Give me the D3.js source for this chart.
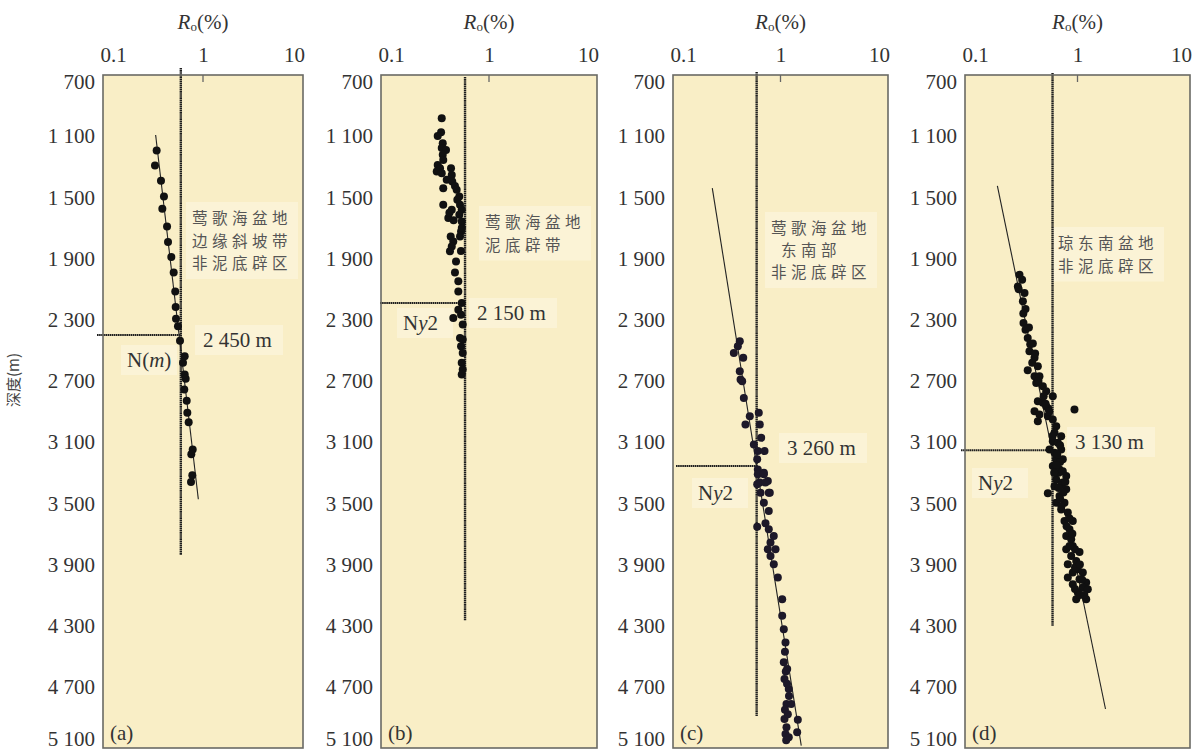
<!DOCTYPE html>
<html><head><meta charset="utf-8">
<script src="https://cdn.jsdelivr.net/npm/d3@7"></script>
<style>body{margin:0;background:#fff}</style>
</head><body>
<svg id="chart" width="1204" height="753"></svg>
<script>
// ---------- data ----------
const depthTicks = [700,1100,1500,1900,2300,2700,3100,3500,3900,4300,4700,5100];
const roTicks = [0.1,1,10];
const panelIds = ['a','b','c','d'];
const thresholdRo = 0.6;

const pointsA = [[0.344,1194],[0.331,1292],[0.380,1392],[0.407,1494],[0.392,1575],[0.437,1690],[0.447,1792],[0.482,1890],[0.509,1991],[0.528,2115],[0.533,2216],[0.537,2293],[0.562,2343],[0.589,2438],[0.656,2539],[0.631,2582],[0.656,2658],[0.671,2686],[0.650,2756],[0.687,2830],[0.697,2908],[0.719,2970],[0.789,3148],[0.764,3179],[0.782,3316],[0.759,3361]];

const pointsB = [[0.365,983],[0.360,1074],[0.335,1098],[0.373,1146],[0.365,1178],[0.400,1190],[0.373,1222],[0.377,1255],[0.335,1288],[0.352,1309],[0.328,1331],[0.445,1309],[0.365,1342],[0.452,1353],[0.406,1385],[0.457,1397],[0.484,1425],[0.377,1440],[0.502,1451],[0.531,1494],[0.509,1516],[0.377,1549],[0.539,1549],[0.452,1581],[0.559,1581],[0.531,1614],[0.420,1635],[0.559,1658],[0.442,1756],[0.551,1723],[0.467,1788],[0.452,1821],[0.435,1853],[0.539,1756],[0.495,1919],[0.484,1991],[0.520,2049],[0.520,2115],[0.559,2190],[0.520,2234],[0.467,2288],[0.551,2267],[0.571,2332],[0.539,2419],[0.571,2430],[0.551,2474],[0.571,2517],[0.559,2582],[0.571,2626],[0.559,2658],[0.430,1600],[0.470,1650],[0.560,1700],[0.550,1850]];

const pointsC = [[0.418,2441],[0.401,2474],[0.368,2517],[0.450,2549],[0.418,2637],[0.425,2691],[0.440,2702],[0.456,2811],[0.518,2931],[0.472,2985],[0.628,2908],[0.642,2985],[0.661,3072],[0.565,3115],[0.615,3159],[0.710,3159],[0.607,3213],[0.615,3279],[0.700,3300],[0.642,3365],[0.762,3355],[0.795,3431],[0.615,3311],[0.700,3311],[0.607,3376],[0.725,3365],[0.652,3431],[0.778,3431],[0.700,3496],[0.778,3551],[0.607,3653],[0.725,3631],[0.778,3670],[0.866,3714],[0.807,3757],[0.762,3801],[0.899,3801],[0.807,3845],[0.866,3899],[0.944,3986],[1.037,4127],[1.037,4236],[1.073,4323],[1.113,4410],[1.073,4540],[1.154,4584],[1.089,4649],[1.194,4715],[1.137,4813],[1.257,4813],[1.089,4911],[1.449,4915],[1.137,4965],[1.113,5008],[1.429,4997],[1.194,5030],[1.100,4470],[1.120,4600],[1.150,4680],[1.200,4760],[1.100,4850],[1.170,4880],[1.130,5050]];

const pointsD = [[0.305,2006],[0.322,2038],[0.295,2082],[0.338,2125],[0.327,2180],[0.345,2230],[0.331,2321],[0.345,2365],[0.361,2419],[0.401,2456],[0.374,2506],[0.415,2549],[0.396,2582],[0.444,2604],[0.361,2630],[0.415,2669],[0.459,2669],[0.430,2713],[0.492,2735],[0.527,2767],[0.603,2800],[0.444,2833],[0.492,2843],[0.527,2865],[0.415,2898],[0.459,2920],[0.545,2931],[0.444,2963],[0.603,2952],[0.647,2996],[0.625,3039],[0.716,3061],[0.940,2887],[0.603,3094],[0.668,3104],[0.564,3148],[0.625,3170],[0.716,3148],[0.647,3213],[0.740,3213],[0.603,3257],[0.692,3279],[0.794,3322],[0.647,3344],[0.740,3365],[0.625,3388],[0.794,3409],[0.545,3435],[0.692,3453],[0.647,3496],[0.766,3496],[0.716,3540],[0.820,3561],[0.766,3616],[0.908,3616],[0.849,3670],[0.794,3714],[0.879,3736],[0.908,3779],[0.794,3801],[1.042,3818],[0.879,3845],[0.974,3877],[0.820,3899],[1.006,3931],[0.908,3953],[1.115,3953],[0.820,3986],[1.042,3997],[1.195,4018],[0.908,4029],[1.115,4051],[1.235,4062],[1.006,4084],[0.974,4127],[1.195,4127],[0.660,3180],[0.700,3230],[0.680,3300],[0.720,3380],[0.750,3430],[0.700,3470],[0.850,3600],[0.800,3650],[0.900,3700],[0.950,3800],[0.850,3780],[0.950,3920],[1.050,3900],[1.100,4000],[0.950,4060],[1.050,4100],[1.150,4100],[0.700,3120],[0.650,3250],[0.620,3300],[0.740,3290],[0.780,3360],[0.680,3400],[0.720,3520],[0.600,3060],[0.550,2880],[0.500,2800],[0.380,2460],[0.300,2100],[0.330,2260],[0.370,2350],[0.420,2520],[0.450,2700],[0.560,2900],[0.520,2850]];

const trendA = [[0.336,1092],[0.898,3474]];
const trendB = [];
const trendC = [[0.232,1440],[1.56,5085]];
const trendD = [[0.194,1425],[1.774,4845]];

const refSpanA = [654,3840];
const refSpanB = [713,4264];
const refSpanC = [680,4891];
const refSpanD = [687,4303];

const boundaryDepths = [2400,2190,3257,3153];
const boundaryLabels = ['2 450 m','2 150 m','3 260 m','3 130 m'];
const stratLabels = [['N(','m',')'],['N','y','2'],['N','y','2'],['N','y','2']];
const regionTexts = [
  ['莺歌海盆地','边缘斜坡带','非泥底辟区'],
  ['莺歌海盆地','泥底辟带'],
  ['莺歌海盆地','东南部','非泥底辟区'],
  ['琼东南盆地','非泥底辟区']
];
const panelTags = ['(a)','(b)','(c)','(d)'];

// ---------- layout ----------
const layout = [
  {left:103,right:303, regionX:[192,192,192], regionY:[224,246.5,269], bX:203,bY:347, sX:127,sY:367, hStart:97},
  {left:381,right:597, regionX:[485,485], regionY:[228,250.5], bX:477,bY:320, sX:403,sY:330, hStart:380},
  {left:673,right:888, regionX:[771,781,771], regionY:[234,256,278], bX:787,bY:455, sX:698,sY:500, hStart:676},
  {left:965,right:1190, regionX:[1058,1058], regionY:[249,271.5], bX:1075,bY:449, sX:978,sY:490, hStart:961}
];
const plotTop = 75, plotBottom = 748;
const serif = "'Liberation Serif','Times New Roman',serif";
const cjk = "'Noto Sans CJK SC','Noto Sans CJK TC',sans-serif";

const allPoints = [pointsA,pointsB,pointsC,pointsD];
const allTrends = [trendA,trendB,trendC,trendD];
const allSpans = [refSpanA,refSpanB,refSpanC,refSpanD];

const svg = d3.select('#chart');
const y = d3.scaleLinear().domain([700,5100]).range([plotTop,plotBottom]);
const fmtDepth = d => d >= 1000 ? Math.floor(d/1000) + ' ' + String(d%1000).padStart(3,'0') : String(d);

// y-axis title
svg.append('text')
  .attr('transform','translate(19,380) rotate(-90)')
  .attr('text-anchor','middle')
  .attr('font-family', cjk).attr('font-size',15).attr('fill','#444')
  .text('深度(m)');

panelIds.forEach((id,i) => {
  const L = layout[i];
  const x = d3.scaleLog().domain([0.1,10]).range([L.left,L.right]);
  const g = svg.append('g').attr('class','panel-'+id);

  // background
  g.append('rect').attr('x',L.left).attr('y',plotTop)
    .attr('width',L.right-L.left).attr('height',plotBottom-plotTop)
    .attr('fill','#f9eec6');

  // label highlight boxes (slightly lighter)
  const hl = '#fbf3d6';
  const rX = L.regionX[0]-6, rY = L.regionY[0]-22;
  const rH = L.regionY[L.regionY.length-1]-L.regionY[0]+32;
  g.append('rect').attr('x',rX).attr('y',rY).attr('width',Math.min(112,L.right-rX-4)).attr('height',rH).attr('fill',hl);
  g.append('rect').attr('x',L.bX-8).attr('y',L.bY-22).attr('width',88).attr('height',30).attr('fill',hl);
  g.append('rect').attr('x',L.sX-6).attr('y',L.sY-22).attr('width',56).attr('height',30).attr('fill',hl);

  // y axis
  const ya = g.append('g').attr('transform',`translate(${L.left},0)`)
    .call(d3.axisLeft(y).tickValues(depthTicks).tickSize(0).tickPadding(8).tickFormat(fmtDepth));
  ya.select('.domain').remove();
  ya.selectAll('text').attr('font-family',serif).attr('font-size',21).attr('fill','#333')
    .attr('dy', d => d===700 ? '0.62em' : d===5100 ? '-0.1em' : '0.32em');

  // x axis (top)
  const xa = g.append('g').attr('transform',`translate(0,${plotTop})`)
    .call(d3.axisTop(x).tickValues(roTicks).tickSize(0).tickPadding(13).tickFormat(d => d3.format('~g')(d)));
  xa.select('.domain').remove();
  xa.selectAll('text').attr('font-family',serif).attr('font-size',21).attr('fill','#333')
    .attr('dx', d => d===0.1 ? 10 : d===10 ? -9 : 0);
  // small inner tick at 1
  g.append('line').attr('x1',x(1)).attr('x2',x(1)).attr('y1',plotTop).attr('y2',plotTop+7)
    .attr('stroke','#666').attr('stroke-width',1.3);

  // axis title Ro(%)
  const t = g.append('text').attr('x',(L.left+L.right)/2).attr('y',29)
    .attr('text-anchor','middle').attr('font-family',serif).attr('font-size',21).attr('fill','#333');
  t.append('tspan').attr('font-style','italic').text('R');
  t.append('tspan').attr('font-size',13).attr('dy',2).text('o');
  t.append('tspan').attr('dy',-2).text('(%)');

  // threshold vertical line
  const span = allSpans[i];
  g.append('line').attr('x1',x(thresholdRo)).attr('x2',x(thresholdRo))
    .attr('y1',y(span[0])).attr('y2',y(span[1]))
    .attr('stroke','#1e1e1e').attr('stroke-width',2.4).attr('stroke-dasharray','1.6,0.5');

  // boundary horizontal line
  g.append('line').attr('x1',L.hStart).attr('x2',x(thresholdRo))
    .attr('y1',y(boundaryDepths[i])).attr('y2',y(boundaryDepths[i]))
    .attr('stroke','#1e1e1e').attr('stroke-width',2).attr('stroke-dasharray','1.6,0.5');

  // trend line
  const tr = allTrends[i];
  if (tr.length) {
    g.append('path').datum(tr)
      .attr('d', d3.line().x(d => x(d[0])).y(d => y(d[1])))
      .attr('fill','none').attr('stroke','#222').attr('stroke-width',1.1);
  }

  // points
  g.append('g').selectAll('circle').data(allPoints[i]).join('circle')
    .attr('cx', d => x(d[0])).attr('cy', d => y(d[1]))
    .attr('r', 4).attr('fill', i===2 ? '#1d1828' : '#111');

  // region text
  regionTexts[i].forEach((line,k) => {
    g.append('text').attr('x',L.regionX[k]).attr('y',L.regionY[k])
      .attr('font-family',cjk).attr('font-size',15.5).attr('letter-spacing',4.5)
      .attr('fill','#555').text(line);
  });

  // boundary depth label
  g.append('text').attr('x',L.bX).attr('y',L.bY)
    .attr('font-family',serif).attr('font-size',21).attr('fill','#333')
    .text(boundaryLabels[i]);

  // stratigraphic label
  const s = g.append('text').attr('x',L.sX).attr('y',L.sY)
    .attr('font-family',serif).attr('font-size',21).attr('fill','#333');
  const parts = stratLabels[i];
  s.append('tspan').text(parts[0]);
  s.append('tspan').attr('font-style','italic').text(parts[1]);
  s.append('tspan').text(parts[2]);

  // panel tag
  g.append('text').attr('x',L.left+7).attr('y',plotBottom-8)
    .attr('font-family',serif).attr('font-size',21).attr('fill','#333')
    .text(panelTags[i]);

  // border
  g.append('rect').attr('x',L.left).attr('y',plotTop)
    .attr('width',L.right-L.left).attr('height',plotBottom-plotTop)
    .attr('fill','none').attr('stroke','#6a6a64').attr('stroke-width',1.6);
});
</script>
</body></html>
